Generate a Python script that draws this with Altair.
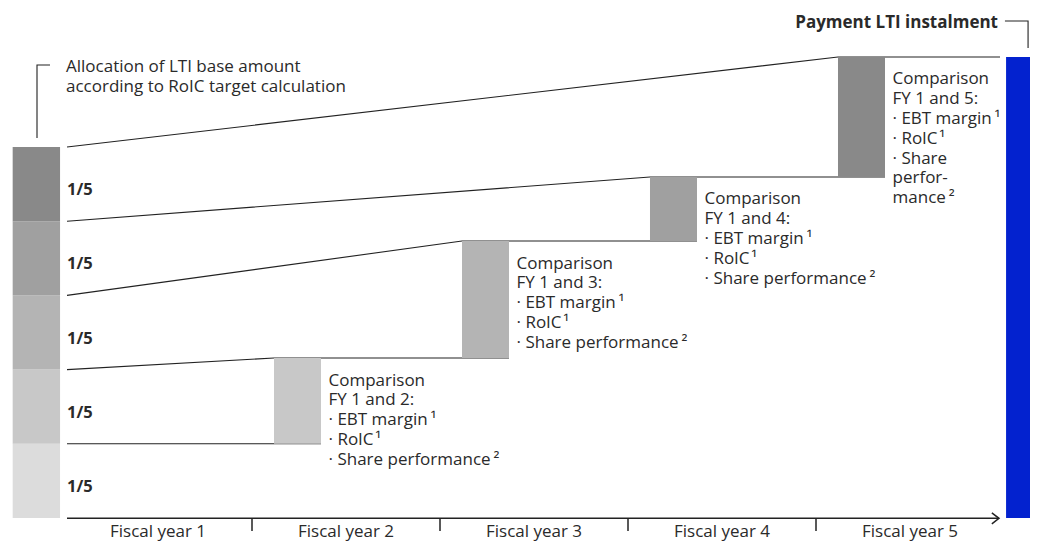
import altair as alt

# ---------------- data ----------------
fiscal_years = ["Fiscal year 1", "Fiscal year 2", "Fiscal year 3", "Fiscal year 4", "Fiscal year 5"]
tranche_labels = ["1/5", "1/5", "1/5", "1/5", "1/5"]          # bottom -> top
tranche_ids = ["T1", "T2", "T3", "T4", "T5"]
tranche_share = [1, 1, 1, 1, 1]                                 # equal fifths
step_years = [2, 3, 4, 5]                                        # years with a comparison bar
step_bottom = [1.0, 2.156, 3.733, 4.596]
step_top = [2.156, 3.733, 4.596, 6.213]
payment_top = 6.213
notes = [
    ["Comparison", "FY 1 and 2:", "· EBT margin\u2009¹", "· RoIC\u200a¹", "· Share performance\u2009²"],
    ["Comparison", "FY 1 and 3:", "· EBT margin\u2009¹", "· RoIC\u200a¹", "· Share performance\u2009²"],
    ["Comparison", "FY 1 and 4:", "· EBT margin\u2009¹", "· RoIC\u200a¹", "· Share performance\u2009²"],
    ["Comparison", "FY 1 and 5:", "· EBT margin\u2009¹", "· RoIC\u200a¹", "· Share",
     "\u00a0\u00a0perfor-", "\u00a0\u00a0mance\u2009²"],
]
left_title = ["Allocation of LTI base amount", "according to RoIC target calculation"]
right_title = "Payment LTI instalment"

# ---------------- layout (scale units: x = fiscal years, y = fifths) ----------------
W, H = 1022, 534
x_dom = [-56 / 188, (W - 56) / 188]
y_dom = [(510 - H) / 74.2, 510 / 74.2]
XS = alt.Scale(domain=x_dom, nice=False, zero=False)
YS = alt.Scale(domain=y_dom, nice=False, zero=False)
BAR_OFF, BAR_W = 0.117, 0.25
LINE_X0 = 0.016
AXIS_END = 4.973
INK = "#222222"
TXT = "#2a2a2a"
FONT = "Open Sans"
shade_range = ["#dcdcdc", "#c8c8c8", "#b4b4b4", "#a0a0a0", "#898989"]
CS = alt.Scale(domain=tranche_ids, range=shade_range)


def bstart(fy):
    return fy - 1 + BAR_OFF


def bend(fy):
    return fy - 1 + BAR_OFF + BAR_W


def X(f, **kw):
    return alt.X(f, type="quantitative", scale=XS, axis=None, **kw)


def Y(f, **kw):
    return alt.Y(f, type="quantitative", scale=YS, axis=None, **kw)


# left allocation stack
stack_rows = []
acc = 0
for tid, share, lab in zip(tranche_ids, tranche_share, tranche_labels):
    stack_rows.append({"id": tid, "v0": acc, "v1": acc + share, "lab": lab, "vm": acc + share / 2})
    acc += share

stack = alt.Chart(alt.Data(values=stack_rows)).mark_rect().encode(
    x=X("a", title=None), x2=alt.X2("b"), y=Y("v0"), y2=alt.Y2("v1"),
    color=alt.Color("id:N", scale=CS, legend=None),
).transform_calculate(a=str(-0.273), b=str(-0.021))

stack_text = alt.Chart(alt.Data(values=stack_rows)).mark_text(
    align="left", baseline="alphabetic", dy=11, font=FONT, fontSize=16.5,
    fontWeight="bold", color=TXT,
).encode(x=X("a"), y=Y("vm"), text=alt.Text("lab:N")).transform_calculate(a=str(LINE_X0))

# step bars
step_rows = []
for fy, b, t, n in zip(step_years, step_bottom, step_top, notes):
    step_rows.append({"id": tranche_ids[fy - 1], "x0": bstart(fy), "x1": bend(fy),
                      "v0": b, "v1": t, "note": n, "tx": bend(fy) + 0.04})
steps = alt.Chart(alt.Data(values=step_rows)).mark_rect().encode(
    x=X("x0"), x2=alt.X2("x1"), y=Y("v0"), y2=alt.Y2("v1"),
    color=alt.Color("id:N", scale=CS, legend=None),
)
step_text = alt.Chart(alt.Data(values=step_rows)).mark_text(
    align="left", baseline="alphabetic", dy=27.5, lineHeight=19.8,
    font=FONT, fontSize=17, color=TXT,
).encode(x=X("tx"), y=Y("v1"), text=alt.Text("note:N"))

# connecting lines
line_rows = []
for i in range(1, 6):
    pts = [(LINE_X0, i)]
    if i < 5:
        lvl = step_bottom[i - 1]
        if i >= 2:
            pts.append((bstart(i), lvl))
        pts.append((bend(i + 1), lvl))
    else:
        pts.append((bstart(5), step_top[-1]))
        pts.append((4.979, step_top[-1]))
    for s, (t, v) in enumerate(pts):
        line_rows.append({"line": f"L{i}", "seq": s, "t": t, "v": v})
lines = alt.Chart(alt.Data(values=line_rows)).mark_line(
    color=INK, strokeWidth=1.1, interpolate="linear"
).encode(x=X("t"), y=Y("v"), detail="line:N", order="seq:Q")

# payment bar
pay = alt.Chart(alt.Data(values=[{"x0": 5.011, "x1": x_dom[1], "v0": 0, "v1": payment_top}])).mark_rect(
    color="#0322cf").encode(x=X("x0"), x2=alt.X2("x1"), y=Y("v0"), y2=alt.Y2("v1"))

# time axis
axis_line = alt.Chart(alt.Data(values=[{"a": LINE_X0, "b": AXIS_END, "v": -0.005}])).mark_rule(
    color=INK, strokeWidth=1.5).encode(x=X("a"), x2=alt.X2("b"), y=Y("v"))
ticks = alt.Chart(alt.Data(values=[{"t": k, "v0": 0, "v1": -0.175} for k in range(1, 5)])).mark_rule(
    color=INK, strokeWidth=1.5).encode(x=X("t"), y=Y("v0"), y2=alt.Y2("v1"))
arrow = alt.Chart(alt.Data(values=[{"t": AXIS_END - 3.5 / 188, "v": -0.005}])).mark_point(
    shape="M-0.65,-1L0.65,0L-0.65,1", size=121, filled=False, color=INK, strokeWidth=1.5,
    opacity=1).encode(x=X("t"), y=Y("v"))
year_text = alt.Chart(alt.Data(values=[{"t": k + 0.5, "v": -0.256, "lab": l}
                                       for k, l in enumerate(fiscal_years)])).mark_text(
    align="center", baseline="alphabetic", font=FONT, fontSize=17, color=TXT
).encode(x=X("t"), y=Y("v"), text="lab:N")

# titles and brackets
lt = alt.Chart(alt.Data(values=[{"t": 0.0106, "v": 6.011, "lab": left_title}])).mark_text(
    align="left", baseline="alphabetic", lineHeight=20, font=FONT, fontSize=17, color=TXT
).encode(x=X("t"), y=Y("v"), text="lab:N")
rt = alt.Chart(alt.Data(values=[{"t": 4.968, "v": 6.604, "lab": right_title}])).mark_text(
    align="right", baseline="alphabetic", font=FONT, fontSize=17, fontWeight="bold", color=TXT
).encode(x=X("t"), y=Y("v"), text="lab:N")
bracket_rows = [
    {"b": "L", "s": 0, "t": -0.0745, "v": 6.105},
    {"b": "L", "s": 1, "t": -0.1436, "v": 6.105},
    {"b": "L", "s": 2, "t": -0.1436, "v": 5.121},
    {"b": "R", "s": 0, "t": 5.005, "v": 6.698},
    {"b": "R", "s": 1, "t": 5.128, "v": 6.698},
    {"b": "R", "s": 2, "t": 5.128, "v": 6.334},
]
brackets = alt.Chart(alt.Data(values=bracket_rows)).mark_line(color=INK, strokeWidth=1.1).encode(
    x=X("t"), y=Y("v"), detail="b:N", order="s:Q")

chart = alt.layer(
    lines, stack, steps, pay, axis_line, ticks, arrow, brackets,
    stack_text, step_text, year_text, lt, rt,
).properties(width=W, height=H, padding=0, autosize="none", background="white"
).configure_view(stroke=None)

chart.save("out.html", embed_options={"renderer": "svg", "actions": False})
